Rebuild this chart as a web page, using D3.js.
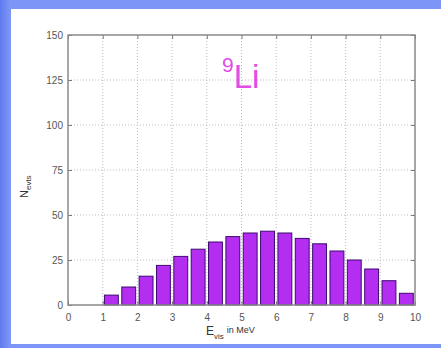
<!DOCTYPE html>
<html><head><meta charset="utf-8">
<script src="https://cdn.jsdelivr.net/npm/d3@7"></script>
<style>html,body{margin:0;padding:0;background:#fff}svg{display:block}</style>
</head><body>
<svg id="c" width="441" height="348"></svg>
<script>
const binStarts = [1,1.5,2,2.5,3,3.5,4,4.5,5,5.5,6,6.5,7,7.5,8,8.5,9,9.5];
const counts = [5.5,10,16,22,27,31,35,38,40,41,40,37,34,30,25,20,13.5,6.5];
const binWidth = 0.5;
const xTicks = [0,1,2,3,4,5,6,7,8,9,10];
const yTicks = [0,25,50,75,100,125,150];

const svg = d3.select("#c");
const defs = svg.append("defs");
const g1 = defs.append("linearGradient").attr("id","lg").attr("x1","0").attr("x2","1").attr("y1","0").attr("y2","0");
g1.append("stop").attr("offset","0").attr("stop-color","#5f7cf0");
g1.append("stop").attr("offset","1").attr("stop-color","#8198f6");

svg.append("rect").attr("width",441).attr("height",348).attr("fill","#7d95f6");
svg.append("rect").attr("x",0).attr("y",0).attr("width",11).attr("height",348).attr("fill","url(#lg)");
svg.append("rect").attr("x",11).attr("y",9).attr("width",430).attr("height",335).attr("fill","#ffffff");

const L=68,R=415,T=35,B=305;
const x = d3.scaleLinear().domain([0,10]).range([L,R]);
const y = d3.scaleLinear().domain([0,150]).range([B,T]);

// grid
const grid = svg.append("g").attr("stroke","#bdbdbd").attr("stroke-width",1).attr("stroke-dasharray","1,2");
grid.selectAll(".gx").data(xTicks.slice(1,-1)).join("line")
  .attr("x1",d=>x(d)).attr("x2",d=>x(d)).attr("y1",T).attr("y2",B);
grid.selectAll(".gy").data(yTicks.slice(1,-1)).join("line")
  .attr("x1",L).attr("x2",R).attr("y1",d=>y(d)).attr("y2",d=>y(d));

// bars
const bw = (x(binWidth)-x(0))*0.8;
svg.append("g").selectAll("rect").data(binStarts).join("rect")
  .attr("x",(d)=>x(d+binWidth/2)-bw/2)
  .attr("width",bw)
  .attr("y",(d,i)=>y(counts[i]))
  .attr("height",(d,i)=>y(0)-y(counts[i]))
  .attr("fill","#b42ef2")
  .attr("stroke","#3d0b6e").attr("stroke-width",1);

// axes
const ax = svg.append("g").attr("transform",`translate(0,${B})`)
  .call(d3.axisBottom(x).tickValues(xTicks).tickSize(-4).tickPadding(9).tickFormat(d3.format("d")));
const ay = svg.append("g").attr("transform",`translate(${L},0)`)
  .call(d3.axisLeft(y).tickValues(yTicks).tickSize(-4).tickPadding(5));
const axT = svg.append("g").attr("transform",`translate(0,${T})`)
  .call(d3.axisTop(x).tickValues(xTicks).tickSize(-4).tickFormat(""));
const ayR = svg.append("g").attr("transform",`translate(${R},0)`)
  .call(d3.axisRight(y).tickValues(yTicks).tickSize(-4).tickFormat(""));
[ax,ay,axT,ayR].forEach(a=>{
  a.select(".domain").remove();
  a.selectAll(".tick line").attr("stroke","#777");
  a.selectAll("text").attr("fill","#555").attr("font-family","Liberation Sans, Arial, sans-serif").attr("font-size",10);
});
svg.append("rect").attr("x",L).attr("y",T).attr("width",R-L).attr("height",B-T)
  .attr("fill","none").attr("stroke","#8a8a8a").attr("stroke-width",1.5);

// title
const title = svg.append("text").attr("x",222).attr("y",88)
  .attr("font-family","Liberation Sans, Arial, sans-serif").attr("fill","#e24de6");
title.append("tspan").attr("font-size",21).attr("dy",-16).text("9");
title.append("tspan").attr("font-size",33).attr("dy",16).text("Li");

// x label
const xl = svg.append("text").attr("x",206).attr("y",335)
  .attr("font-family","Liberation Sans, Arial, sans-serif").attr("fill","#333").attr("font-size",11);
xl.append("tspan").attr("font-size",12).text("E");
xl.append("tspan").attr("font-size",8).attr("dy",4).text("vis");
xl.append("tspan").attr("font-size",9).attr("dy",-6).attr("dx",3).text("in MeV");

// y label
const yl = svg.append("text").attr("transform","translate(28,198) rotate(-90)")
  .attr("font-family","Liberation Sans, Arial, sans-serif").attr("fill","#333").attr("font-size",11);
yl.append("tspan").text("N");
yl.append("tspan").attr("font-size",8).attr("dy",3).text("evts");
</script>
</body></html>
